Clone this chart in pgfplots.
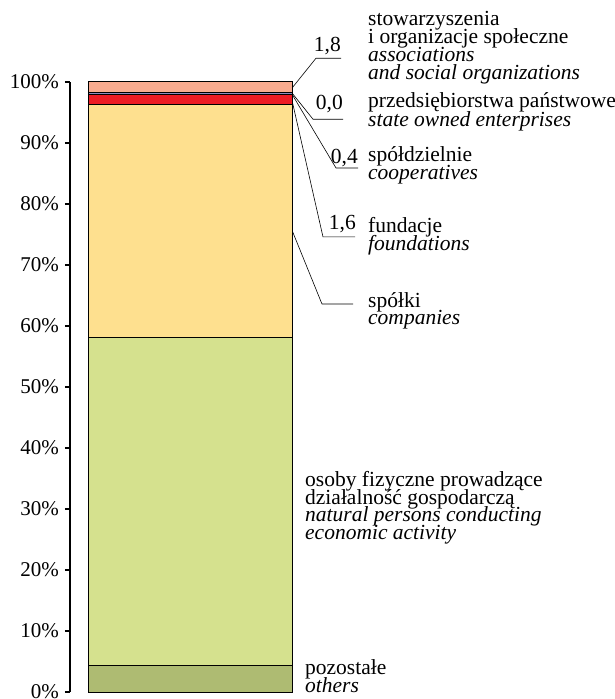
\documentclass[border=0pt]{standalone}
\usepackage{pgfplots}
\pgfplotsset{compat=1.18}
\usepackage{fontspec}
\setmainfont{Liberation Serif}
\definecolor{cOth}{HTML}{AEBB72}
\definecolor{cNat}{HTML}{D5E18E}
\definecolor{cCom}{HTML}{FEE08F}
\definecolor{cFun}{HTML}{ED1C24}
\definecolor{cCoop}{HTML}{8C8CBE}
\definecolor{cSta}{HTML}{5A5A8A}
\definecolor{cAss}{HTML}{F8AB8F}
\newcommand{\lbl}[3]{\node[anchor=base west, inner sep=0pt] at (axis cs:#1,{(692-#2)/6.1}) {#3};}
\newcommand{\num}[3]{\node[anchor=base east, inner sep=0pt] at (axis cs:#1,{(692-#2)/6.1}) {#3};}
\begin{document}
\fontsize{21.5}{18}\selectfont
\begin{tikzpicture}[x=1pt,y=1pt]
\useasboundingbox (-70,-7) rectangle (545,692);
\begin{axis}[
  at={(0,0)}, anchor=south west,
  scale only axis, width=222pt, height=610pt,
  xmin=0, xmax=222, ymin=0, ymax=100,
  axis x line=none, axis y line=left,
  y axis line style={-, line width=1.6pt},
  ytick={0,10,...,100},
  yticklabel={\pgfmathprintnumber{\tick}\%},
  /pgf/number format/assume math mode=true,
  tick align=outside, major tick length=5pt,
  ytick style={line width=1.6pt, black},
  yticklabel style={font=\fontsize{21}{21}\selectfont, inner sep=0pt, xshift=-6pt},
  ybar stacked, bar width=204, bar shift=0pt,
  clip=false,
  every axis plot/.append style={draw=black, line width=0.8pt},
]
\addplot[fill=cOth] coordinates {(120,4.3)};
\addplot[fill=cNat] coordinates {(120,53.8)};
\addplot[fill=cCom] coordinates {(120,38.2)};
\addplot[fill=cFun] coordinates {(120,1.6)};
\addplot[fill=cCoop] coordinates {(120,0.4)};
\addplot[fill=cSta] coordinates {(120,0.0)};
\addplot[fill=cAss] coordinates {(120,1.8)};

% values inside the bar
\node[anchor=base] at (axis cs:116,75.4) {38,2};
\node[anchor=base] at (axis cs:116,29.5) {53,8};
\node[anchor=base] at (axis cs:116,0.85) {4,3};

% leader lines
\draw[line width=0.6pt] (axis cs:222,99.0) -- (axis cs:246,103.9) -- (axis cs:271,103.9);
\draw[line width=0.6pt] (axis cs:222,98.2) -- (axis cs:243,93.9) -- (axis cs:273,93.9);
\draw[line width=0.6pt] (axis cs:222,98.0) -- (axis cs:266,85.9) -- (axis cs:288,85.9);
\draw[line width=0.6pt] (axis cs:222,97.0) -- (axis cs:253,74.6) -- (axis cs:285,74.6);
\draw[line width=0.6pt] (axis cs:222,75.7) -- (axis cs:252,63.6) -- (axis cs:283,63.6);

\num{271}{52}{1,8}
\num{273}{110}{0,0}
\num{288}{164}{0,4}
\num{286}{230}{1,6}

\lbl{298}{26}{stowarzyszenia}
\lbl{298}{44}{i organizacje społeczne}
\lbl{298}{62}{\itshape associations}
\lbl{298}{80}{\itshape and social organizations}
\lbl{298}{108}{przedsiębiorstwa państwowe}
\lbl{298}{126}{\itshape state owned enterprises}
\lbl{298}{161}{spółdzielnie}
\lbl{298}{179}{\itshape cooperatives}
\lbl{298}{233}{fundacje}
\lbl{298}{251}{\itshape foundations}
\lbl{298}{307}{spółki}
\lbl{298}{325}{\itshape companies}
\lbl{235}{486}{osoby fizyczne prowadzące}
\lbl{235}{504}{działalność gospodarczą}
\lbl{235}{522}{\itshape natural persons conducting}
\lbl{235}{540}{\itshape economic activity}
\lbl{235}{675}{pozostałe}
\lbl{235}{693}{\itshape others}
\end{axis}
\end{tikzpicture}
\end{document}
